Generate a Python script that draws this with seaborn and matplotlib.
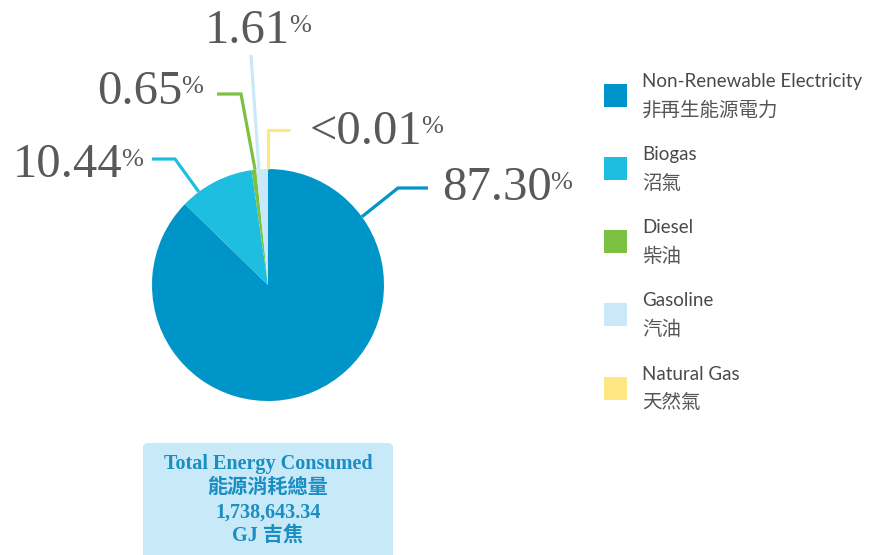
import matplotlib
matplotlib.use("Agg")
import matplotlib.pyplot as plt
from matplotlib.patches import Rectangle, FancyBboxPatch
import seaborn as sns
import numpy as np

# data
categories = ["Non-Renewable Electricity", "Biogas", "Diesel", "Gasoline", "Natural Gas"]
categories_zh = ["非再生能源電力", "沼氣", "柴油", "汽油", "天然氣"]
shares = [87.30, 10.44, 0.65, 1.61, 0.004]
share_labels = ["87.30", "10.44", "0.65", "1.61", "<0.01"]
total_title = "Total Energy Consumed"
total_title_zh = "能源消耗總量"
total_value = "1,738,643.34"
total_unit = "GJ 吉焦"

colors = sns.color_palette(["#0095c8", "#1ebee0", "#7cc142", "#c9e9f8", "#ffe783"])

sns.set_theme(style="white")
plt.rcParams["font.family"] = ["Lato", "Noto Sans CJK TC", "DejaVu Sans"]

W, H = 873, 555
fig = plt.figure(figsize=(W / 100, H / 100), dpi=100)
ax = fig.add_axes([0, 0, 1, 1])


def py(y):
    # pixel row from top -> data y
    return H - y


cx, cy, r = 268, 285, 116
wedges, _ = ax.pie(shares, colors=colors, startangle=90, counterclock=False,
                   center=(cx, py(cy)), radius=r, wedgeprops=dict(linewidth=0))
ax.set_xlim(0, W)
ax.set_ylim(0, H)
ax.set_aspect("equal")
ax.axis("off")

# leader lines + labels: (anchor angle, elbow, end, label x, label baseline)
leaders = [
    (36, (398, 188), (428, 188), 442, 200),
    (126.6, (175, 159), (152, 159), 13, 177),
    (96.4, (241, 94), (217, 94), 97, 104),
    (94.5, (251, 55), (251, 55), 205, 43),
    (90, (268, 130), (290, 130), 310, 144),
]
serif = ["Liberation Serif", "DejaVu Serif"]
txt_col = "#595959"

for i, (ang, elbow, end, lx, ly) in enumerate(leaders):
    a = np.deg2rad(ang)
    sx, sy = cx + r * np.cos(a), cy - r * np.sin(a)
    ax.plot([sx, elbow[0], end[0]], [py(sy), py(elbow[1]), py(end[1])],
            color=colors[i], lw=2.3, solid_capstyle="butt", solid_joinstyle="miter")
    t = ax.text(lx, py(ly), share_labels[i], fontsize=35, family=serif,
                color=txt_col, ha="left", va="baseline")
    ax.annotate("%", xy=(1, 1), xycoords=t, xytext=(-1, -4), textcoords="offset points",
                fontsize=19, family=serif, color=txt_col, ha="left", va="top")

# legend
for i, (en, zh) in enumerate(zip(categories, categories_zh)):
    yc = 95 + i * 73.25
    ax.add_patch(Rectangle((604, py(yc + 11.5)), 23, 23, color=colors[i], lw=0))
    ax.text(642, py(yc - 14), en, fontsize=13.5, color="#4a4a4a",
            va="center", ha="left")
    ax.text(642, py(yc + 15), zh, fontsize=14, color="#555555", va="center", ha="left",
            family=["Noto Sans CJK TC"])

# total box
ax.add_patch(FancyBboxPatch((143, py(562)), 250, 119, boxstyle="round,pad=0,rounding_size=5",
                            facecolor="#c8e9f8", edgecolor="none"))
box_col = "#1a8ec2"
box_font = ["Liberation Serif", "Noto Sans CJK TC"]
for txt, yy in zip([total_title, total_title_zh, total_value, total_unit], [464, 488, 513, 536]):
    ax.text(268, py(yy), txt, fontsize=14.5, fontweight="bold", family=box_font,
            color=box_col, ha="center", va="center")

fig.savefig("out.png", dpi=100)
